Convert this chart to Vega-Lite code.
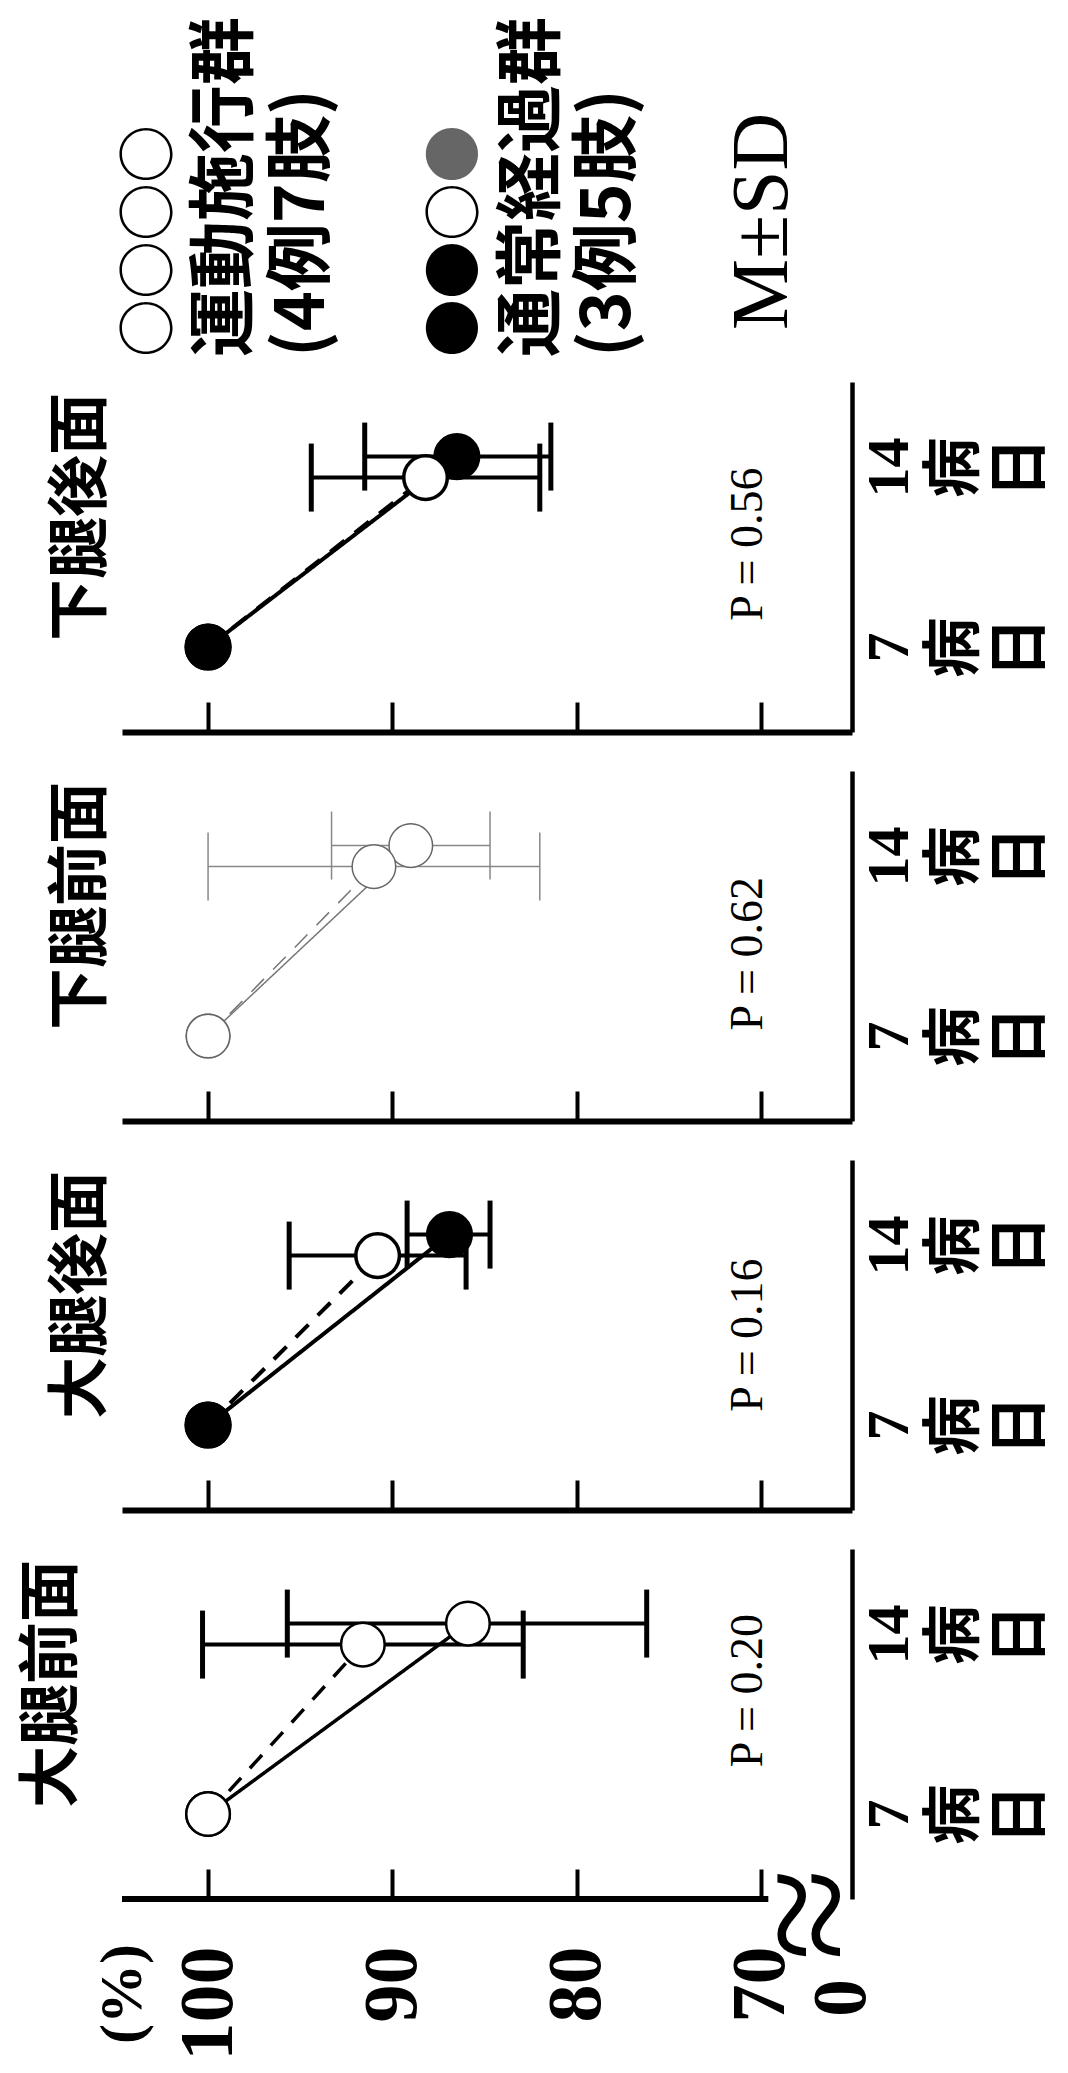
{
  "$schema": "https://vega.github.io/schema/vega-lite/v6.json",
  "background": "white",
  "padding": {"left": 22, "top": 5, "right": 5, "bottom": 5},
  "spacing": 39,
  "bounds": "flush",
  "resolve": {"scale": {"x": "independent", "y": "independent", "fill": "independent"}},
  "config": {
    "view": {"stroke": null},
    "axis": {"domainColor": "black", "tickColor": "black", "labelColor": "black", "grid": false},
    "font": "Liberation Serif"
  },
  "datasets": {
    "pts": [
      {"region": "下腿後面", "group": "運動施行群", "day": 7, "value": 100, "lo": 100, "hi": 100},
      {"region": "下腿後面", "group": "通常経過群", "day": 7, "value": 100, "lo": 100, "hi": 100},
      {"region": "下腿後面", "group": "通常経過群", "day": 14, "value": 86.5, "lo": 81.4, "hi": 91.5},
      {"region": "下腿後面", "group": "運動施行群", "day": 14, "value": 88.2, "lo": 82.0, "hi": 94.4},
      {"region": "下腿前面", "group": "運動施行群", "day": 7, "value": 100, "lo": 100, "hi": 100},
      {"region": "下腿前面", "group": "通常経過群", "day": 7, "value": 100, "lo": 100, "hi": 100},
      {"region": "下腿前面", "group": "通常経過群", "day": 14, "value": 89.0, "lo": 84.7, "hi": 93.3},
      {"region": "下腿前面", "group": "運動施行群", "day": 14, "value": 91.0, "lo": 82.0, "hi": 100.0},
      {"region": "大腿後面", "group": "運動施行群", "day": 7, "value": 100, "lo": 100, "hi": 100},
      {"region": "大腿後面", "group": "通常経過群", "day": 7, "value": 100, "lo": 100, "hi": 100},
      {"region": "大腿後面", "group": "通常経過群", "day": 14, "value": 86.9, "lo": 84.7, "hi": 89.2},
      {"region": "大腿後面", "group": "運動施行群", "day": 14, "value": 90.8, "lo": 86.0, "hi": 95.6},
      {"region": "大腿前面", "group": "運動施行群", "day": 7, "value": 100, "lo": 100, "hi": 100},
      {"region": "大腿前面", "group": "通常経過群", "day": 7, "value": 100, "lo": 100, "hi": 100},
      {"region": "大腿前面", "group": "通常経過群", "day": 14, "value": 85.9, "lo": 76.2, "hi": 95.7},
      {"region": "大腿前面", "group": "運動施行群", "day": 14, "value": 91.6, "lo": 82.9, "hi": 100.3}
    ],
    "pv": [
      {"region": "下腿後面", "p": "P = 0.56"},
      {"region": "下腿前面", "p": "P = 0.62"},
      {"region": "大腿後面", "p": "P = 0.16"},
      {"region": "大腿前面", "p": "P = 0.20"}
    ],
    "legend": [
      {"slot": 1, "text": "○○○○", "kind": "symbol"},
      {"slot": 2, "text": "運動施行群", "kind": "label"},
      {"slot": 3, "text": "(4例7肢)", "kind": "label"},
      {"slot": 5, "text": "●●○", "kind": "symbol"},
      {"slot": 5, "text": "●", "kind": "symbol4"},
      {"slot": 6, "text": "通常経過群", "kind": "label"},
      {"slot": 7, "text": "(3例5肢)", "kind": "label"},
      {"slot": 9, "text": "M±SD", "kind": "note"}
    ]
  },
  "vconcat": [
    {
      "width": 730, "height": 338,
      "data": {"name": "legend"},
      "layer": [
        {"transform": [{"filter": "datum.kind == 'label'"}],
         "mark": {"type": "text", "angle": 270, "align": "left", "baseline": "middle", "font": "Noto Sans CJK JP", "fontWeight": "bold", "fontSize": 68, "color": "black", "y": "height", "dx": -14},
         "encoding": {"x": {"field": "slot", "type": "quantitative", "scale": {"domain": [0.621, 10.163], "nice": false, "zero": false}, "axis": null}, "text": {"field": "text"}}},
        {"transform": [{"filter": "datum.kind == 'symbol'"}],
         "mark": {"type": "text", "angle": 270, "align": "left", "baseline": "middle", "font": "Noto Sans CJK JP", "fontWeight": "bold", "fontSize": 58, "color": "black", "y": "height", "dx": -14},
         "encoding": {"x": {"field": "slot", "type": "quantitative"}, "text": {"field": "text"}}},
        {"transform": [{"filter": "datum.kind == 'symbol4'"}],
         "mark": {"type": "text", "angle": 270, "align": "left", "baseline": "middle", "font": "Noto Sans CJK JP", "fontWeight": "bold", "fontSize": 58, "color": "#666666", "y": "height", "dx": 160},
         "encoding": {"x": {"field": "slot", "type": "quantitative"}, "text": {"field": "text"}}},
        {"transform": [{"filter": "datum.kind == 'note'"}],
         "mark": {"type": "text", "angle": 270, "align": "left", "baseline": "middle", "font": "Liberation Serif", "fontSize": 80, "color": "black", "y": "height", "dx": 13},
         "encoding": {"x": {"field": "slot", "type": "quantitative"}, "text": {"field": "text"}}}
      ]
    },
    {
      "width": 730, "height": 350,
      "title": {"text": "下腿後面", "orient": "left", "anchor": "middle", "font": "Noto Sans CJK JP", "fontSize": 62, "fontWeight": "bold", "offset": 8, "dx": 40, "color": "black"},
      "layer": [
        {"data": {"name": "pts"}, "transform": [{"filter": "datum.region == '下腿後面' && datum.day == 14"}],
         "mark": {"type": "rule", "color": "black", "strokeWidth": 4, "yOffset": {"expr": "datum.day == 14 ? (datum.group == '通常経過群' ? -10.5 : 10.5) : 0"}},
         "encoding": {
           "x": {"field": "lo", "type": "quantitative", "scale": {"domain": [65.06, 104.67], "reverse": true, "nice": false, "zero": false},
                 "axis": {"orient": "bottom", "values": [100, 90, 80, 70], "labels": false, "ticks": true, "tickSize": -30, "tickWidth": 4, "domainWidth": 6, "title": null}},
           "x2": {"field": "hi"},
           "y": {"field": "day", "type": "quantitative", "scale": {"domain": [3.694, 17.31], "nice": false, "zero": false},
                 "axis": {"orient": "right", "values": [7, 14], "ticks": false, "domainWidth": 4.5, "labelAngle": 270, "labelAlign": "center", "labelBaseline": "top", "labelPadding": 8, "labelFont": "Liberation Serif, Noto Sans CJK JP", "labelFontWeight": "bold", "labelFontSize": 60, "labelLineHeight": 66, "labelExpr": "datum.value == 7 ? ['7','病','日'] : ['14','病','日']", "title": null, "labelOverlap": false, "labelFlush": false, "labelBound": false}}
         }},
        {"data": {"name": "pts"}, "transform": [{"filter": "datum.region == '下腿後面' && datum.day == 14"}],
         "mark": {"type": "tick", "orient": "vertical", "color": "black", "opacity": 1, "size": 68, "thickness": 5, "yOffset": {"expr": "datum.day == 14 ? (datum.group == '通常経過群' ? -10.5 : 10.5) : 0"}},
         "encoding": {"x": {"field": "lo", "type": "quantitative"}, "y": {"field": "day", "type": "quantitative"}}},
        {"data": {"name": "pts"}, "transform": [{"filter": "datum.region == '下腿後面' && datum.day == 14"}],
         "mark": {"type": "tick", "orient": "vertical", "color": "black", "opacity": 1, "size": 68, "thickness": 5, "yOffset": {"expr": "datum.day == 14 ? (datum.group == '通常経過群' ? -10.5 : 10.5) : 0"}},
         "encoding": {"x": {"field": "hi", "type": "quantitative"}, "y": {"field": "day", "type": "quantitative"}}},
        {"data": {"name": "pts"}, "transform": [{"filter": "datum.region == '下腿後面'"}],
         "mark": {"type": "line", "color": "black", "strokeWidth": 4, "yOffset": {"expr": "datum.day == 14 ? (datum.group == '通常経過群' ? -10.5 : 10.5) : 0"}},
         "encoding": {"x": {"field": "value", "type": "quantitative"}, "y": {"field": "day", "type": "quantitative"}, "detail": {"field": "group"},
                      "strokeDash": {"field": "group", "type": "nominal", "scale": {"domain": ["運動施行群", "通常経過群"], "range": [[18, 13], [1, 0]]}, "legend": null}}},
        {"data": {"name": "pts"}, "transform": [{"filter": "datum.region == '下腿後面'"}],
         "mark": {"type": "point", "shape": "circle", "filled": true, "size": 1900, "stroke": "black", "strokeWidth": 3.5, "opacity": 1, "yOffset": {"expr": "datum.day == 14 ? (datum.group == '通常経過群' ? -10.5 : 10.5) : 0"}},
         "encoding": {"x": {"field": "value", "type": "quantitative"}, "y": {"field": "day", "type": "quantitative"},
                      "fill": {"field": "group", "type": "nominal", "scale": {"domain": ["運動施行群", "通常経過群"], "range": ["white", "black"]}, "legend": null}}},
        {"data": {"name": "pv"}, "transform": [{"filter": "datum.region == '下腿後面'"}],
         "mark": {"type": "text", "angle": 270, "align": "center", "baseline": "middle", "font": "Liberation Serif", "fontSize": 46, "color": "black"},
         "encoding": {"x": {"datum": 70.7}, "y": {"datum": 11.0}, "text": {"field": "p"}}}
      ]
    },
    {
      "width": 730, "height": 350,
      "title": {"text": "下腿前面", "orient": "left", "anchor": "middle", "font": "Noto Sans CJK JP", "fontSize": 62, "fontWeight": "bold", "offset": 8, "dx": 40, "color": "black"},
      "layer": [
        {"data": {"name": "pts"}, "transform": [{"filter": "datum.region == '下腿前面' && datum.day == 14"}],
         "mark": {"type": "rule", "color": "#888888", "strokeWidth": 1.5, "yOffset": {"expr": "datum.day == 14 ? (datum.group == '通常経過群' ? -10.5 : 10.5) : 0"}},
         "encoding": {
           "x": {"field": "lo", "type": "quantitative", "scale": {"domain": [65.06, 104.67], "reverse": true, "nice": false, "zero": false},
                 "axis": {"orient": "bottom", "values": [100, 90, 80, 70], "labels": false, "ticks": true, "tickSize": -30, "tickWidth": 4, "domainWidth": 6, "title": null}},
           "x2": {"field": "hi"},
           "y": {"field": "day", "type": "quantitative", "scale": {"domain": [3.694, 17.31], "nice": false, "zero": false},
                 "axis": {"orient": "right", "values": [7, 14], "ticks": false, "domainWidth": 4.5, "labelAngle": 270, "labelAlign": "center", "labelBaseline": "top", "labelPadding": 8, "labelFont": "Liberation Serif, Noto Sans CJK JP", "labelFontWeight": "bold", "labelFontSize": 60, "labelLineHeight": 66, "labelExpr": "datum.value == 7 ? ['7','病','日'] : ['14','病','日']", "title": null, "labelOverlap": false, "labelFlush": false, "labelBound": false}}
         }},
        {"data": {"name": "pts"}, "transform": [{"filter": "datum.region == '下腿前面' && datum.day == 14"}],
         "mark": {"type": "tick", "orient": "vertical", "color": "#888888", "opacity": 1, "size": 68, "thickness": 1.5, "yOffset": {"expr": "datum.day == 14 ? (datum.group == '通常経過群' ? -10.5 : 10.5) : 0"}},
         "encoding": {"x": {"field": "lo", "type": "quantitative"}, "y": {"field": "day", "type": "quantitative"}}},
        {"data": {"name": "pts"}, "transform": [{"filter": "datum.region == '下腿前面' && datum.day == 14"}],
         "mark": {"type": "tick", "orient": "vertical", "color": "#888888", "opacity": 1, "size": 68, "thickness": 1.5, "yOffset": {"expr": "datum.day == 14 ? (datum.group == '通常経過群' ? -10.5 : 10.5) : 0"}},
         "encoding": {"x": {"field": "hi", "type": "quantitative"}, "y": {"field": "day", "type": "quantitative"}}},
        {"data": {"name": "pts"}, "transform": [{"filter": "datum.region == '下腿前面'"}],
         "mark": {"type": "line", "color": "#777777", "strokeWidth": 1.5, "yOffset": {"expr": "datum.day == 14 ? (datum.group == '通常経過群' ? -10.5 : 10.5) : 0"}},
         "encoding": {"x": {"field": "value", "type": "quantitative"}, "y": {"field": "day", "type": "quantitative"}, "detail": {"field": "group"},
                      "strokeDash": {"field": "group", "type": "nominal", "scale": {"domain": ["運動施行群", "通常経過群"], "range": [[18, 13], [1, 0]]}, "legend": null}}},
        {"data": {"name": "pts"}, "transform": [{"filter": "datum.region == '下腿前面'"}],
         "mark": {"type": "point", "shape": "circle", "filled": true, "size": 1900, "stroke": "#666666", "strokeWidth": 1.5, "opacity": 1, "yOffset": {"expr": "datum.day == 14 ? (datum.group == '通常経過群' ? -10.5 : 10.5) : 0"}},
         "encoding": {"x": {"field": "value", "type": "quantitative"}, "y": {"field": "day", "type": "quantitative"},
                      "fill": {"field": "group", "type": "nominal", "scale": {"domain": ["運動施行群", "通常経過群"], "range": ["white", "white"]}, "legend": null}}},
        {"data": {"name": "pv"}, "transform": [{"filter": "datum.region == '下腿前面'"}],
         "mark": {"type": "text", "angle": 270, "align": "center", "baseline": "middle", "font": "Liberation Serif", "fontSize": 46, "color": "black"},
         "encoding": {"x": {"datum": 70.7}, "y": {"datum": 10.2}, "text": {"field": "p"}}}
      ]
    },
    {
      "width": 730, "height": 350,
      "title": {"text": "大腿後面", "orient": "left", "anchor": "middle", "font": "Noto Sans CJK JP", "fontSize": 62, "fontWeight": "bold", "offset": 8, "dx": 40, "color": "black"},
      "layer": [
        {"data": {"name": "pts"}, "transform": [{"filter": "datum.region == '大腿後面' && datum.day == 14"}],
         "mark": {"type": "rule", "color": "black", "strokeWidth": 4, "yOffset": {"expr": "datum.day == 14 ? (datum.group == '通常経過群' ? -10.5 : 10.5) : 0"}},
         "encoding": {
           "x": {"field": "lo", "type": "quantitative", "scale": {"domain": [65.06, 104.67], "reverse": true, "nice": false, "zero": false},
                 "axis": {"orient": "bottom", "values": [100, 90, 80, 70], "labels": false, "ticks": true, "tickSize": -30, "tickWidth": 4, "domainWidth": 6, "title": null}},
           "x2": {"field": "hi"},
           "y": {"field": "day", "type": "quantitative", "scale": {"domain": [3.694, 17.31], "nice": false, "zero": false},
                 "axis": {"orient": "right", "values": [7, 14], "ticks": false, "domainWidth": 4.5, "labelAngle": 270, "labelAlign": "center", "labelBaseline": "top", "labelPadding": 8, "labelFont": "Liberation Serif, Noto Sans CJK JP", "labelFontWeight": "bold", "labelFontSize": 60, "labelLineHeight": 66, "labelExpr": "datum.value == 7 ? ['7','病','日'] : ['14','病','日']", "title": null, "labelOverlap": false, "labelFlush": false, "labelBound": false}}
         }},
        {"data": {"name": "pts"}, "transform": [{"filter": "datum.region == '大腿後面' && datum.day == 14"}],
         "mark": {"type": "tick", "orient": "vertical", "color": "black", "opacity": 1, "size": 68, "thickness": 5, "yOffset": {"expr": "datum.day == 14 ? (datum.group == '通常経過群' ? -10.5 : 10.5) : 0"}},
         "encoding": {"x": {"field": "lo", "type": "quantitative"}, "y": {"field": "day", "type": "quantitative"}}},
        {"data": {"name": "pts"}, "transform": [{"filter": "datum.region == '大腿後面' && datum.day == 14"}],
         "mark": {"type": "tick", "orient": "vertical", "color": "black", "opacity": 1, "size": 68, "thickness": 5, "yOffset": {"expr": "datum.day == 14 ? (datum.group == '通常経過群' ? -10.5 : 10.5) : 0"}},
         "encoding": {"x": {"field": "hi", "type": "quantitative"}, "y": {"field": "day", "type": "quantitative"}}},
        {"data": {"name": "pts"}, "transform": [{"filter": "datum.region == '大腿後面'"}],
         "mark": {"type": "line", "color": "black", "strokeWidth": 4, "yOffset": {"expr": "datum.day == 14 ? (datum.group == '通常経過群' ? -10.5 : 10.5) : 0"}},
         "encoding": {"x": {"field": "value", "type": "quantitative"}, "y": {"field": "day", "type": "quantitative"}, "detail": {"field": "group"},
                      "strokeDash": {"field": "group", "type": "nominal", "scale": {"domain": ["運動施行群", "通常経過群"], "range": [[18, 13], [1, 0]]}, "legend": null}}},
        {"data": {"name": "pts"}, "transform": [{"filter": "datum.region == '大腿後面'"}],
         "mark": {"type": "point", "shape": "circle", "filled": true, "size": 1900, "stroke": "black", "strokeWidth": 3.5, "opacity": 1, "yOffset": {"expr": "datum.day == 14 ? (datum.group == '通常経過群' ? -10.5 : 10.5) : 0"}},
         "encoding": {"x": {"field": "value", "type": "quantitative"}, "y": {"field": "day", "type": "quantitative"},
                      "fill": {"field": "group", "type": "nominal", "scale": {"domain": ["運動施行群", "通常経過群"], "range": ["white", "black"]}, "legend": null}}},
        {"data": {"name": "pv"}, "transform": [{"filter": "datum.region == '大腿後面'"}],
         "mark": {"type": "text", "angle": 270, "align": "center", "baseline": "middle", "font": "Liberation Serif", "fontSize": 46, "color": "black"},
         "encoding": {"x": {"datum": 70.7}, "y": {"datum": 10.5}, "text": {"field": "p"}}}
      ]
    },
    {
      "width": 730, "height": 350,
      "title": {"text": "大腿前面", "orient": "left", "anchor": "middle", "font": "Noto Sans CJK JP", "fontSize": 62, "fontWeight": "bold", "offset": 8, "dx": 40, "color": "black"},
      "layer": [
        {"data": {"name": "pts"}, "transform": [{"filter": "datum.region == '大腿前面' && datum.day == 14"}],
         "mark": {"type": "rule", "color": "black", "strokeWidth": 4, "yOffset": {"expr": "datum.day == 14 ? (datum.group == '通常経過群' ? -10.5 : 10.5) : 0"}},
         "encoding": {
           "x": {"field": "lo", "type": "quantitative", "scale": {"domain": [65.06, 104.67], "reverse": true, "nice": false, "zero": false},
                 "axis": {"orient": "bottom", "values": [100, 90, 80, 70], "domain": false, "ticks": true, "tickSize": -30, "tickWidth": 4, "labels": true, "labelAngle": 270, "labelAlign": "right", "labelBaseline": "middle", "labelPadding": 77, "labelFont": "Liberation Serif", "labelFontWeight": "bold", "labelFontSize": 76, "labelFlush": false, "labelOverlap": false, "labelBound": false, "title": null}},
           "x2": {"field": "hi"},
           "y": {"field": "day", "type": "quantitative", "scale": {"domain": [3.694, 17.31], "nice": false, "zero": false},
                 "axis": {"orient": "right", "values": [7, 14], "ticks": false, "domainWidth": 4.5, "labelAngle": 270, "labelAlign": "center", "labelBaseline": "top", "labelPadding": 8, "labelFont": "Liberation Serif, Noto Sans CJK JP", "labelFontWeight": "bold", "labelFontSize": 60, "labelLineHeight": 66, "labelExpr": "datum.value == 7 ? ['7','病','日'] : ['14','病','日']", "title": null, "labelOverlap": false, "labelFlush": false, "labelBound": false}}
         }},
        {"data": {"name": "pts"}, "transform": [{"filter": "datum.region == '大腿前面' && datum.day == 14"}],
         "mark": {"type": "tick", "orient": "vertical", "color": "black", "opacity": 1, "size": 68, "thickness": 5, "yOffset": {"expr": "datum.day == 14 ? (datum.group == '通常経過群' ? -10.5 : 10.5) : 0"}},
         "encoding": {"x": {"field": "lo", "type": "quantitative"}, "y": {"field": "day", "type": "quantitative"}}},
        {"data": {"name": "pts"}, "transform": [{"filter": "datum.region == '大腿前面' && datum.day == 14"}],
         "mark": {"type": "tick", "orient": "vertical", "color": "black", "opacity": 1, "size": 68, "thickness": 5, "yOffset": {"expr": "datum.day == 14 ? (datum.group == '通常経過群' ? -10.5 : 10.5) : 0"}},
         "encoding": {"x": {"field": "hi", "type": "quantitative"}, "y": {"field": "day", "type": "quantitative"}}},
        {"data": {"name": "pts"}, "transform": [{"filter": "datum.region == '大腿前面'"}],
         "mark": {"type": "line", "color": "black", "strokeWidth": 3.5, "yOffset": {"expr": "datum.day == 14 ? (datum.group == '通常経過群' ? -10.5 : 10.5) : 0"}},
         "encoding": {"x": {"field": "value", "type": "quantitative"}, "y": {"field": "day", "type": "quantitative"}, "detail": {"field": "group"},
                      "strokeDash": {"field": "group", "type": "nominal", "scale": {"domain": ["運動施行群", "通常経過群"], "range": [[18, 13], [1, 0]]}, "legend": null}}},
        {"data": {"name": "pts"}, "transform": [{"filter": "datum.region == '大腿前面'"}],
         "mark": {"type": "point", "shape": "circle", "filled": true, "size": 1900, "stroke": "black", "strokeWidth": 2.5, "opacity": 1, "yOffset": {"expr": "datum.day == 14 ? (datum.group == '通常経過群' ? -10.5 : 10.5) : 0"}},
         "encoding": {"x": {"field": "value", "type": "quantitative"}, "y": {"field": "day", "type": "quantitative"},
                      "fill": {"field": "group", "type": "nominal", "scale": {"domain": ["運動施行群", "通常経過群"], "range": ["white", "white"]}, "legend": null}}},
        {"data": {"name": "pv"}, "transform": [{"filter": "datum.region == '大腿前面'"}],
         "mark": {"type": "text", "angle": 270, "align": "center", "baseline": "middle", "font": "Liberation Serif", "fontSize": 46, "color": "black"},
         "encoding": {"x": {"datum": 70.7}, "y": {"datum": 11.8}, "text": {"field": "p"}}},
        {"data": {"values": [{}]},
         "mark": {"type": "rule", "color": "black", "strokeWidth": 6},
         "encoding": {"x": {"datum": 104.67}, "x2": {"datum": 69.6}, "y": {"datum": 3.694}}},
        {"data": {"values": [{}]},
         "mark": {"type": "text", "text": "≈", "angle": 270, "align": "center", "baseline": "middle", "font": "Liberation Serif", "fontSize": 170, "color": "black"},
         "encoding": {"x": {"datum": 67.1}, "y": {"datum": 3.1}}},
        {"data": {"values": [{}]},
         "mark": {"type": "text", "text": "0", "angle": 270, "align": "right", "baseline": "middle", "font": "Liberation Serif", "fontWeight": "bold", "fontSize": 76, "color": "black"},
         "encoding": {"x": {"datum": 65.6}, "y": {"datum": 0.58}}},
        {"data": {"values": [{}]},
         "mark": {"type": "text", "text": "(%)", "angle": 270, "align": "right", "baseline": "middle", "font": "Liberation Serif", "fontWeight": "bold", "fontSize": 60, "color": "black"},
         "encoding": {"x": {"datum": 104.6}, "y": {"datum": 1.94}}}
      ]
    }
  ]
}
